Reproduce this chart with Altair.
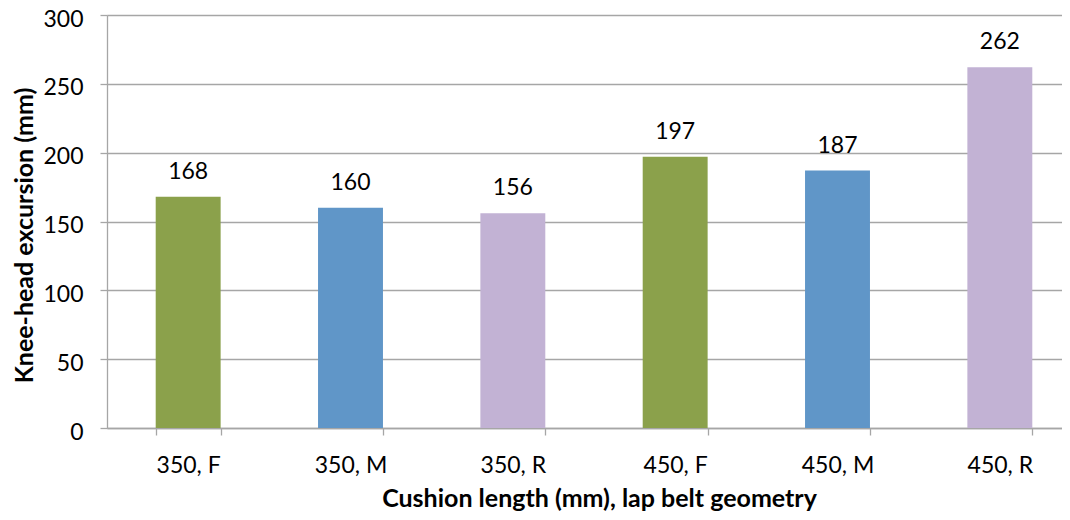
import altair as alt
import pandas as pd

categories = ["350, F", "350, M", "350, R", "450, F", "450, M", "450, R"]
values = [168, 160, 156, 197, 187, 262]
colors = ["#8ba14b", "#6096c8", "#c2b2d4", "#8ba14b", "#6096c8", "#c2b2d4"]
y_ticks = [0, 50, 100, 150, 200, 250, 300]

df = pd.DataFrame({"cat": categories, "val": values})

FONT = "Lato"
GRID = "#a6a6a6"

x_enc = alt.X(
    "cat:N",
    sort=categories,
    scale=alt.Scale(paddingInner=0.6, paddingOuter=0.3),
    axis=alt.Axis(
        title="Cushion length (mm), lap belt geometry",
        labelAngle=0,
        labelFont=FONT,
        labelFontSize=23,
        labelColor="#000000",
        labelBaseline="alphabetic",
        labelPadding=37,
        tickBand="extent",
        tickSize=7,
        tickColor=GRID,
        tickWidth=1.3,
        domainColor=GRID,
        domainWidth=1.3,
        titleFont=FONT,
        titleFontSize=25,
        titleFontWeight="bold",
        titleColor="#000000",
        titleX=492,
        titleY=78,
        titleAlign="center",
        titleBaseline="alphabetic",
        grid=False,
    ),
)

y_enc = alt.Y(
    "val:Q",
    scale=alt.Scale(domain=[0, 300], nice=False),
    axis=alt.Axis(
        title="Knee-head excursion (mm)",
        values=y_ticks,
        labelFont=FONT,
        labelFontSize=23,
        labelColor="#000000",
        labelPadding=17,
        labelBaseline="alphabetic",
        labelOffset=11,
        tickSize=7,
        tickColor=GRID,
        tickWidth=1.3,
        domainColor=GRID,
        domainWidth=1.3,
        gridColor=GRID,
        gridWidth=1.3,
        grid=True,
        titleFont=FONT,
        titleFontSize=25,
        titleFontWeight="bold",
        titleColor="#000000",
        titleX=-83,
        titleY=220,
        titleAngle=-90,
        titleAlign="center",
        titleBaseline="middle",
    ),
)

bars = alt.Chart(df).mark_bar().encode(
    x=x_enc,
    y=y_enc,
    color=alt.Color(
        "cat:N",
        scale=alt.Scale(domain=categories, range=colors),
        legend=None,
    ),
)

labels = alt.Chart(df).mark_text(
    font=FONT, fontSize=23, color="#000000", baseline="alphabetic", dy=-18
).encode(
    x=alt.X("cat:N", sort=categories),
    y=alt.Y("val:Q"),
    text=alt.Text("val:Q"),
)

chart = (
    alt.layer(bars, labels)
    .properties(
        width=974,
        height=413,
        autosize=alt.AutoSizeParams(type="none"),
        padding={"left": 99, "top": 7, "right": -19, "bottom": 84},
    )
    .configure_view(stroke=None)
    .configure(background="white")
)

chart.save("out.html", embed_options={"renderer": "svg", "actions": False})
